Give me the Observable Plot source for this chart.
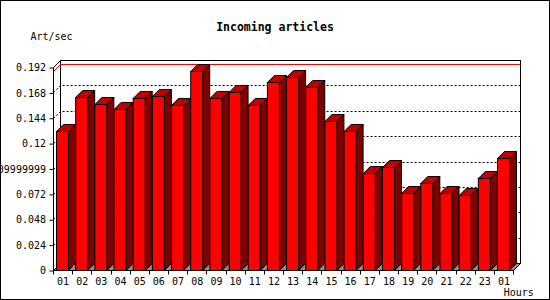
<!DOCTYPE html>
<html><head><meta charset="utf-8">
<script src="https://cdn.jsdelivr.net/npm/d3@7"></script>
<script src="https://cdn.jsdelivr.net/npm/@observablehq/plot@0.6"></script>
<style>
html,body{margin:0;padding:0;background:#fff;}
#chart{width:550px;height:300px;overflow:hidden;}
</style></head><body><div id="chart"></div>
<script>
const hours = ["01","02","03","04","05","06","07","08","09","10","11","12","13","14","15","16","17","18","19","20","21","22","23","01"];
const values = [0.1315,0.1636,0.1570,0.1523,0.1627,0.1646,0.1561,0.1882,0.1627,0.1684,0.1561,0.1778,0.1825,0.1731,0.1409,0.1315,0.0917,0.0974,0.0728,0.0823,0.0728,0.0709,0.0870,0.1059];
const yTicks = [0,0.024,0.048,0.072,0.096,0.12,0.144,0.168,0.192];
const yTickLabels = ["0","0.024","0.048","0.072","0.09999999","0.12","0.144","0.168","0.192"];
const title = "Incoming articles";
const yLabel = "Art/sec";
const xLabel = "Hours";

const data = values.map((v, i) => ({i, hour: hours[i], v}));
const D = 7; // 3D depth in px
const PAD_INNER = 0.3742;
const px = v => Math.round(v - 0.5) + 0.5;

function backdrop(index, scales, vals, dims) {
  const y = scales.y;
  const x0 = dims.marginLeft, x1 = dims.width - dims.marginRight;
  const yb = y(0), yt = y(yTicks[yTicks.length - 1]);
  const g = d3.create("svg:g");
  // floor
  g.append("path").attr("fill", "#909090").attr("stroke", "black")
    .attr("d", `M${x0},${yb}L${x0 + D},${yb - D}L${x1 + D},${yb - D}L${x1},${yb}Z`);
  // back wall
  g.append("rect").attr("x", x0 + D).attr("y", yt - D).attr("width", x1 - x0).attr("height", yb - yt)
    .attr("fill", "white").attr("stroke", "black");
  // gridlines (dotted) on back wall and left wall
  yTicks.slice(1, -1).forEach(t => {
    const yy = px(y(t));
    g.append("path").attr("fill", "none").attr("stroke", "black").attr("stroke-dasharray", "2,2")
      .attr("d", `M${x0},${yy}L${x0 + D},${yy - D}L${x1 + D},${yy - D}`);
  });
  // max line
  const m = px(y(d3.max(values)));
  g.append("path").attr("fill", "none").attr("stroke", "red")
    .attr("d", `M${x0},${m}L${x0 + D},${m - D}L${x1 + D},${m - D}`);
  // left wall edges and axes
  g.append("path").attr("fill", "none").attr("stroke", "black")
    .attr("d", `M${x0},${yb}L${x0},${yt}L${x0 + D},${yt - D}M${x0},${yb}L${x1},${yb}L${x1 + D},${yb - D}`);
  return g.node();
}

function barSides(index, scales) {
  const x = scales.x, y = scales.y;
  const bw = typeof x.bandwidth === "function" ? x.bandwidth() : (x(1) - x(0)) * (1 - PAD_INNER);
  const g = d3.create("svg:g").attr("stroke", "black");
  const y0 = y(0);
  data.forEach(d => {
    const xl = x(d.i), xr = xl + bw, yt = y(d.v);
    g.append("path").attr("fill", "#800000")
      .attr("d", `M${xr},${y0}L${xr + D},${y0 - D}L${xr + D},${yt - D}L${xr},${yt}Z`);
    g.append("path").attr("fill", "#c00000")
      .attr("d", `M${xl},${yt}L${xl + D},${yt - D}L${xr + D},${yt - D}L${xr},${yt}Z`);
  });
  return g.node();
}

function overlay(index, scales, vals, dims) {
  const y = scales.y;
  const x0 = dims.marginLeft, x1 = dims.width - dims.marginRight;
  const yb = y(0);
  const g = d3.create("svg:g");
  const n = hours.length;
  const step = (x1 - x0) / n;
  let d = "";
  for (let k = 0; k <= n; k++) {
    const xx = px(x0 + k * step);
    d += `M${xx},${yb}L${xx},${yb + 4}`;
  }
  g.append("path").attr("stroke", "black").attr("d", d);
  g.append("rect").attr("x", 0.5).attr("y", 0.5).attr("width", dims.width - 1).attr("height", dims.height - 1)
    .attr("fill", "none").attr("stroke", "black");
  return g.node();
}

const chart = Plot.plot({
  width: 550,
  height: 300,
  marginLeft: 53.5,
  marginRight: 36.5,
  marginTop: 67.5,
  marginBottom: 29.5,
  style: {fontFamily: "'DejaVu Sans Mono', monospace", fontSize: "10px", background: "white", color: "black"},
  x: {type: "band", domain: d3.range(hours.length), paddingInner: PAD_INNER, paddingOuter: 0.1826, align: 0.4286, round: false},
  y: {domain: [0, 0.192]},
  marks: [
    backdrop,
    barSides,
    Plot.barY(data, {x: "i", y: "v", fill: "#ff0000", stroke: "black", strokeWidth: 1}),
    Plot.axisY({ticks: yTicks, tickFormat: t => yTickLabels[yTicks.indexOf(t)], tickSize: 4, tickPadding: 4, label: null, fontSize: 10}),
    Plot.axisX({tickSize: 0, tickPadding: 7, tickFormat: i => hours[i], label: null, fontSize: 10}),
    Plot.text([title], {frameAnchor: "top", dx: -9, dy: -40.8, lineAnchor: "middle", fontWeight: "bold", fontSize: 11.5, fontFamily: "'DejaVu Sans Mono', monospace"}),
    Plot.text([yLabel], {frameAnchor: "top-left", dx: -23.5, dy: -30.8, textAnchor: "start", lineAnchor: "middle", fontSize: 10}),
    Plot.text([xLabel], {frameAnchor: "bottom-right", dx: 19.8, dy: 21.8, textAnchor: "end", lineAnchor: "middle", fontSize: 10}),
    overlay
  ]
});
document.getElementById("chart").append(chart);
</script>
</body></html>
